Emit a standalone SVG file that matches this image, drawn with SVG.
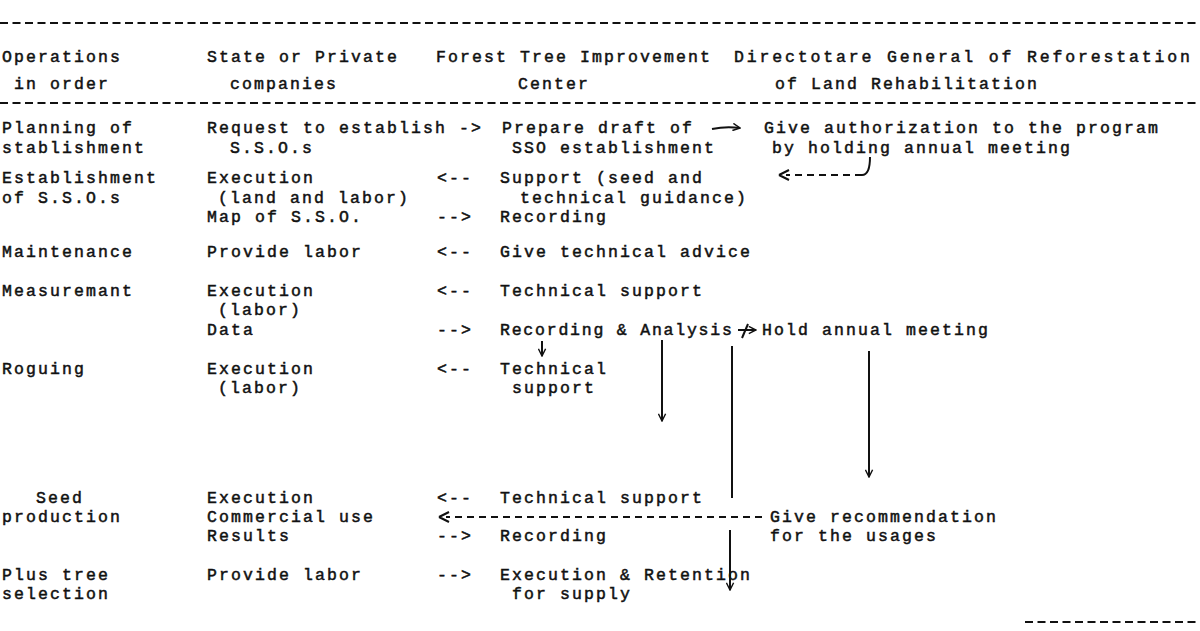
<svg xmlns="http://www.w3.org/2000/svg" width="1200" height="631" viewBox="0 0 1200 631">
<defs>
<style>
.t{font-family:"Liberation Mono","DejaVu Sans Mono",monospace;font-size:16.5px;letter-spacing:2.1px;fill:#111;stroke:#111;stroke-width:0.5}
.dash{stroke:#111;stroke-width:2;stroke-dasharray:8 4.5;fill:none}
.ln{stroke:#111;stroke-width:2;fill:none}
.dl{stroke:#111;stroke-width:1.8;stroke-dasharray:7 5;fill:none}
</style>
<marker id="ah" viewBox="0 0 10 10" refX="9" refY="5" markerWidth="9" markerHeight="9" orient="auto" markerUnits="userSpaceOnUse">
<path d="M1,1 L9,5 L1,9" fill="none" stroke="#111" stroke-width="1.6"/>
</marker>
</defs>
<rect width="1200" height="631" fill="#fff"/>

<g id="rules">
<line class="dash" x1="0" y1="23" x2="1200" y2="23"/>
<line class="dash" x1="0" y1="103" x2="1200" y2="103"/>
<line class="dash" x1="1025" y1="622" x2="1200" y2="622"/>
</g>

<g id="header">
<text class="t" x="2" y="62">Operations</text>
<text class="t" x="14" y="89">in order</text>
<text class="t" x="207" y="62">State or Private</text>
<text class="t" x="230" y="89">companies</text>
<text class="t" x="436" y="62">Forest Tree Improvement</text>
<text class="t" x="518" y="89">Center</text>
<text class="t" x="734" y="62" textLength="458">Directotare General of Reforestation</text>
<text class="t" x="775" y="89">of Land Rehabilitation</text>
</g>

<g id="row-planning">
<text class="t" x="2" y="133">Planning of</text>
<text class="t" x="2" y="153">stablishment</text>
<text class="t" x="207" y="133">Request to establish -&gt;</text>
<text class="t" x="230" y="153">S.S.O.s</text>
<text class="t" x="502" y="133">Prepare draft of</text>
<text class="t" x="512" y="153">SSO establishment</text>
<text class="t" x="764" y="133">Give authorization to the program</text>
<text class="t" x="772" y="153">by holding annual meeting</text>
</g>

<g id="row-establishment">
<text class="t" x="2" y="183">Establishment</text>
<text class="t" x="2" y="203">of S.S.O.s</text>
<text class="t" x="207" y="183">Execution</text>
<text class="t" x="218" y="203">(land and labor)</text>
<text class="t" x="207" y="222">Map of S.S.O.</text>
<text class="t" x="437" y="183">&lt;--</text>
<text class="t" x="437" y="222">--&gt;</text>
<text class="t" x="500" y="183">Support (seed and</text>
<text class="t" x="520" y="203">technical guidance)</text>
<text class="t" x="500" y="222">Recording</text>
</g>

<g id="row-maintenance">
<text class="t" x="2" y="257">Maintenance</text>
<text class="t" x="207" y="257">Provide labor</text>
<text class="t" x="437" y="257">&lt;--</text>
<text class="t" x="500" y="257">Give technical advice</text>
</g>

<g id="row-measurement">
<text class="t" x="2" y="296">Measuremant</text>
<text class="t" x="207" y="296">Execution</text>
<text class="t" x="218" y="315">(labor)</text>
<text class="t" x="207" y="335">Data</text>
<text class="t" x="437" y="296">&lt;--</text>
<text class="t" x="437" y="335">--&gt;</text>
<text class="t" x="500" y="296">Technical support</text>
<text class="t" x="500" y="335" textLength="234">Recording &amp; Analysis</text>
<text class="t" x="762" y="335">Hold annual meeting</text>
</g>

<g id="row-roguing">
<text class="t" x="2" y="374">Roguing</text>
<text class="t" x="207" y="374">Execution</text>
<text class="t" x="218" y="393">(labor)</text>
<text class="t" x="437" y="374">&lt;--</text>
<text class="t" x="500" y="374">Technical</text>
<text class="t" x="512" y="393">support</text>
</g>

<g id="row-seed">
<text class="t" x="36" y="503">Seed</text>
<text class="t" x="2" y="522">production</text>
<text class="t" x="207" y="503">Execution</text>
<text class="t" x="207" y="522">Commercial use</text>
<text class="t" x="207" y="541">Results</text>
<text class="t" x="437" y="503">&lt;--</text>
<text class="t" x="437" y="541">--&gt;</text>
<text class="t" x="500" y="503">Technical support</text>
<text class="t" x="500" y="541">Recording</text>
<text class="t" x="770" y="522">Give recommendation</text>
<text class="t" x="770" y="541">for the usages</text>
</g>

<g id="row-plus">
<text class="t" x="2" y="580">Plus tree</text>
<text class="t" x="2" y="599">selection</text>
<text class="t" x="207" y="580">Provide labor</text>
<text class="t" x="437" y="580">--&gt;</text>
<text class="t" x="500" y="580">Execution &amp; Retention</text>
<text class="t" x="512" y="599">for supply</text>
</g>

<g id="connectors">
<path class="ln" d="M712,129 Q726,126 740,128" marker-end="url(#ah)"/>
<path class="dl" d="M862,175 L786,175"/>
<path class="ln" d="M779,175 L789,170 M779,175 L789,180"/>
<path class="ln" d="M862,175 Q870,175 870,157"/>
<path class="ln" d="M738,330 L756,330" marker-end="url(#ah)"/>
<path class="ln" d="M748,324 L742,338"/>
<path class="ln" d="M542,341 L542,356" marker-end="url(#ah)"/>
<path class="ln" d="M662,340 L662,421" marker-end="url(#ah)"/>
<path class="ln" d="M732,346 L732,498"/>
<path class="ln" d="M869,351 L869,477" marker-end="url(#ah)"/>
<path class="dl" d="M762,517 L446,517"/>
<path class="ln" d="M439,517 L449,512 M439,517 L449,522"/>
<path class="ln" d="M730,530 L730,590" marker-end="url(#ah)"/>
</g>
</svg>
